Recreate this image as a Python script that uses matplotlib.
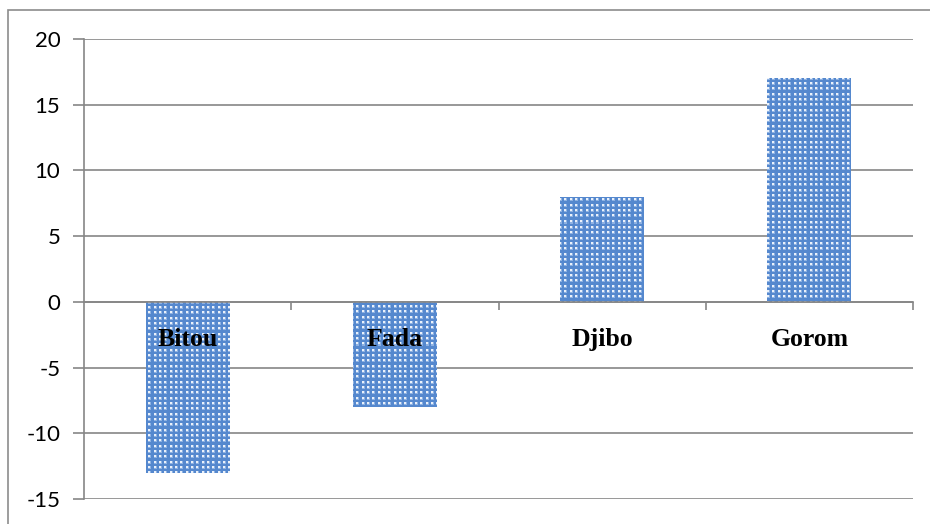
import numpy as np
import matplotlib
matplotlib.use("Agg")
import matplotlib.pyplot as plt
import matplotlib.transforms as mtransforms
from matplotlib.patches import Rectangle

categories = ["Bitou", "Fada", "Djibo", "Gorom"]
values = [-13, -8, 8, 17]
y_ticks = [-15, -10, -5, 0, 5, 10, 15, 20]

W, H, DPI = 930, 524, 100
fig = plt.figure(figsize=(W / DPI, H / DPI), dpi=DPI)
ax_l, ax_r, ax_t, ax_b = 84, 913, 39, 499
ax = fig.add_axes([ax_l / W, 1 - ax_b / H, (ax_r - ax_l) / W, (ax_b - ax_t) / H])

grid_col = "#868686"
x = np.arange(len(categories))
bars = ax.bar(x, values, width=0.405, color="none", linewidth=0, zorder=3)

ax.set_xlim(-0.5, len(categories) - 0.5)
ax.set_ylim(y_ticks[0], y_ticks[-1])

# dotted fill: blue ground with a regular grid of light dots
pw, ph = ax_r - ax_l, ax_b - ax_t
jj, ii = np.meshgrid(np.arange(pw), np.arange(ph))
cj, ci = (jj * 3) % 16, (ii * 3) % 16
dots = (cj < 6) & (ci < 6)
halo = ((cj < 9) & (ci < 9)) & ~dots
ground = np.array([0x55, 0x88, 0xce]) / 255
mid = np.array([0x8f, 0xb2, 0xe2]) / 255
spot = np.array([0xea, 0xf1, 0xfa]) / 255
tex = np.where(dots[..., None], spot, np.where(halo[..., None], mid, ground))
for b in bars:
    im = ax.imshow(tex, extent=(-0.5, len(categories) - 0.5, y_ticks[0], y_ticks[-1]),
                   origin="upper", interpolation="nearest", aspect="auto", zorder=3)
    im.set_clip_path(b)
ax.set_xlim(-0.5, len(categories) - 0.5)
ax.set_ylim(y_ticks[0], y_ticks[-1])

ax.set_yticks(y_ticks)
ax.set_yticklabels([str(v) for v in y_ticks], fontsize=16, family="Lato")
ax.yaxis.grid(True, color=grid_col, linewidth=1.2, zorder=0)
ax.set_axisbelow(True)

for side in ("top", "right"):
    ax.spines[side].set_visible(False)
ax.spines["left"].set_color(grid_col)
ax.spines["left"].set_linewidth(1.2)
ax.spines["bottom"].set_position(("data", 0))
ax.spines["bottom"].set_color(grid_col)
ax.spines["bottom"].set_linewidth(1.2)
ax.spines["bottom"].set_zorder(4)

ax.tick_params(axis="y", length=8, width=1.2, color=grid_col, pad=9)
ax.set_xticks(x + 0.5)
ax.set_xticklabels([])
ax.tick_params(axis="x", length=6, width=1.2, color=grid_col, direction="out")

# category names sit just under the zero line, above the bars
label_tr = mtransforms.offset_copy(ax.transData, fig=fig, x=0, y=-38, units="dots")
for xi, name in zip(x, categories):
    ax.text(xi, 0, name, transform=label_tr, ha="center", va="center",
            fontsize=18.5, fontweight="bold", family="Liberation Serif", zorder=6)

fig.patches.append(Rectangle((8 / W, -0.1), 1.2, 1 - 10 / H + 0.1,
                             transform=fig.transFigure, fill=False,
                             edgecolor="#8c8c8c", linewidth=1.2))

fig.savefig("out.png", dpi=DPI)
